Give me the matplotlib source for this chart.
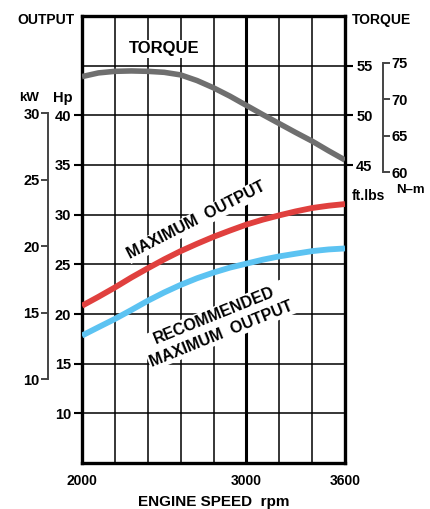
import matplotlib
matplotlib.use('Agg')
import matplotlib.pyplot as plt

# rpm leidos cada 100
rpm = [2000, 2100, 2200, 2300, 2400, 2500, 2600, 2700, 2800,
       2900, 3000, 3100, 3200, 3300, 3400, 3500, 3600]

# curvas
torque_ftlb = [53.9, 54.27, 54.43, 54.47, 54.43, 54.33, 54.07, 53.5, 52.77,
               51.93, 51.0, 50.07, 49.17, 48.27, 47.4, 46.43, 45.5]
max_output_hp = [20.83, 21.73, 22.67, 23.67, 24.6, 25.5, 26.33, 27.07, 27.77,
                 28.4, 29.0, 29.5, 29.93, 30.33, 30.67, 30.9, 31.07]
rec_output_hp = [17.83, 18.67, 19.5, 20.4, 21.33, 22.17, 22.93, 23.6, 24.17,
                 24.67, 25.07, 25.47, 25.8, 26.07, 26.33, 26.5, 26.6]

grid_rpm = [2200, 2400, 2600, 2800, 3000, 3200, 3400]
grid_hp = [10, 15, 20, 25, 30, 35, 40, 45]
x_labels = {2000: '2000', 3000: '3000', 3600: '3600'}
hp_ticks = [10, 15, 20, 25, 30, 35, 40]
kw_ticks = [10, 15, 20, 25, 30]
ftlb_ticks = [45, 50, 55]
nm_ticks = [60, 65, 70, 75]

HP_MIN, HP_MAX = 5, 50
TQ_OFFSET = 10  # ft.lbs = Hp + 10 en esta grafica
KW_PER_HP = 0.7457
NM_PER_FTLB = 1.3558

plt.rcParams['font.family'] = ['Liberation Sans', 'DejaVu Sans']
plt.rcParams['font.weight'] = 'bold'

fig = plt.figure(figsize=(4.3, 5.09), dpi=100)
ax = fig.add_axes([82 / 430, 1 - 463 / 509, 263 / 430, 447 / 509])

ax.set_xlim(2000, 3600)
ax.set_ylim(HP_MIN, HP_MAX)

# rejilla
for r in grid_rpm:
    ax.axvline(r, color='black', lw=2.2 if r == 3000 else 1.1, zorder=1)
for h in grid_hp:
    ax.axhline(h, color='black', lw=1.1, zorder=1)

for s in ax.spines.values():
    s.set_linewidth(2.4)

# curvas (torque en el eje derecho, convertido a la escala del eje Hp)
ax.plot(rpm, [t - TQ_OFFSET for t in torque_ftlb], color='#6f6f6f', lw=4.0,
        solid_capstyle='butt', zorder=3)
ax.plot(rpm, max_output_hp, color='#e0403e', lw=4.2, solid_capstyle='butt', zorder=3)
ax.plot(rpm, rec_output_hp, color='#5cc3f2', lw=4.2, solid_capstyle='butt', zorder=3)

# eje x
ax.set_xticks(list(x_labels.keys()))
ax.set_xticklabels(list(x_labels.values()), fontsize=10, fontweight='bold')
ax.tick_params(axis='x', length=0, pad=8)
ax.set_xlabel('ENGINE SPEED  rpm', fontsize=11, fontweight='bold', labelpad=5)

# eje Hp
ax.set_yticks(hp_ticks)
ax.set_yticklabels([str(v) for v in hp_ticks], fontsize=10.5, fontweight='bold')
ax.tick_params(axis='y', direction='out', length=6, width=1.5, pad=2)

# eje torque ft.lbs
ax_tq = ax.twinx()
ax_tq.set_ylim(HP_MIN + TQ_OFFSET, HP_MAX + TQ_OFFSET)
ax_tq.set_yticks(ftlb_ticks)
ax_tq.set_yticklabels([str(v) for v in ftlb_ticks], fontsize=10.5, fontweight='bold')
ax_tq.tick_params(axis='y', direction='out', length=6, width=1.5, pad=2)
for s in ax_tq.spines.values():
    s.set_visible(False)

# eje kW
ax_kw = ax.twinx()
ax_kw.set_ylim(HP_MIN * KW_PER_HP, HP_MAX * KW_PER_HP)
for k, s in ax_kw.spines.items():
    s.set_visible(k == 'left')
ax_kw.spines['left'].set_position(('axes', (48 - 82) / 263))
ax_kw.spines['left'].set_bounds(10, 30)
ax_kw.spines['left'].set_linewidth(1.4)
ax_kw.spines['left'].set_color('#444444')
ax_kw.yaxis.set_ticks_position('left')
ax_kw.yaxis.set_label_position('left')
ax_kw.set_yticks(kw_ticks)
ax_kw.set_yticklabels([str(v) for v in kw_ticks], fontsize=10.5, fontweight='bold')
ax_kw.tick_params(axis='y', direction='out', length=5, width=1.4, pad=1, color='#444444')

# eje N-m
ax_nm = ax.twinx()
ax_nm.set_ylim((HP_MIN + TQ_OFFSET) * NM_PER_FTLB, (HP_MAX + TQ_OFFSET) * NM_PER_FTLB)
for k, s in ax_nm.spines.items():
    s.set_visible(k == 'right')
ax_nm.spines['right'].set_position(('axes', (383 - 82) / 263))
ax_nm.spines['right'].set_bounds(60, 75)
ax_nm.spines['right'].set_linewidth(1.4)
ax_nm.spines['right'].set_color('#444444')
ax_nm.set_yticks(nm_ticks)
ax_nm.set_yticklabels([str(v) for v in nm_ticks], fontsize=10.5, fontweight='bold')
ax_nm.tick_params(axis='y', direction='out', length=5, width=1.4, pad=1, color='#444444')

# etiquetas dentro de la grafica
box = dict(facecolor='white', edgecolor='none', pad=1.0)
ax.text(2500, 46.7, 'TORQUE', fontsize=12, fontweight='bold', ha='center', va='center',
        bbox=box, zorder=4)
ax.text(2697, 29.4, 'MAXIMUM  OUTPUT', fontsize=11.5, fontweight='bold', rotation=27,
        ha='center', va='center', bbox=box, zorder=4, rotation_mode='anchor')
ax.text(2825, 18.9, 'RECOMMENDED\nMAXIMUM  OUTPUT', fontsize=11.5, fontweight='bold',
        rotation=22, ha='center', va='center', multialignment='center',
        linespacing=1.35, bbox=box, zorder=4, rotation_mode='anchor')

# textos de los ejes
def px(x, y):
    return x / 430, 1 - y / 509

fig.text(*px(75, 20), 'OUTPUT', fontsize=10, fontweight='bold', ha='right', va='center')
fig.text(*px(352, 20), 'TORQUE', fontsize=10, fontweight='bold', ha='left', va='center')
fig.text(*px(29, 98), 'kW', fontsize=9.5, fontweight='bold', ha='center', va='center')
fig.text(*px(63, 98), 'Hp', fontsize=10.5, fontweight='bold', ha='center', va='center')
fig.text(*px(352, 196), 'ft.lbs', fontsize=10, fontweight='bold', ha='left', va='center')
fig.text(*px(410, 190), 'N\u2013m', fontsize=9.5, fontweight='bold', ha='center', va='center')

fig.savefig('out.png', dpi=100)
